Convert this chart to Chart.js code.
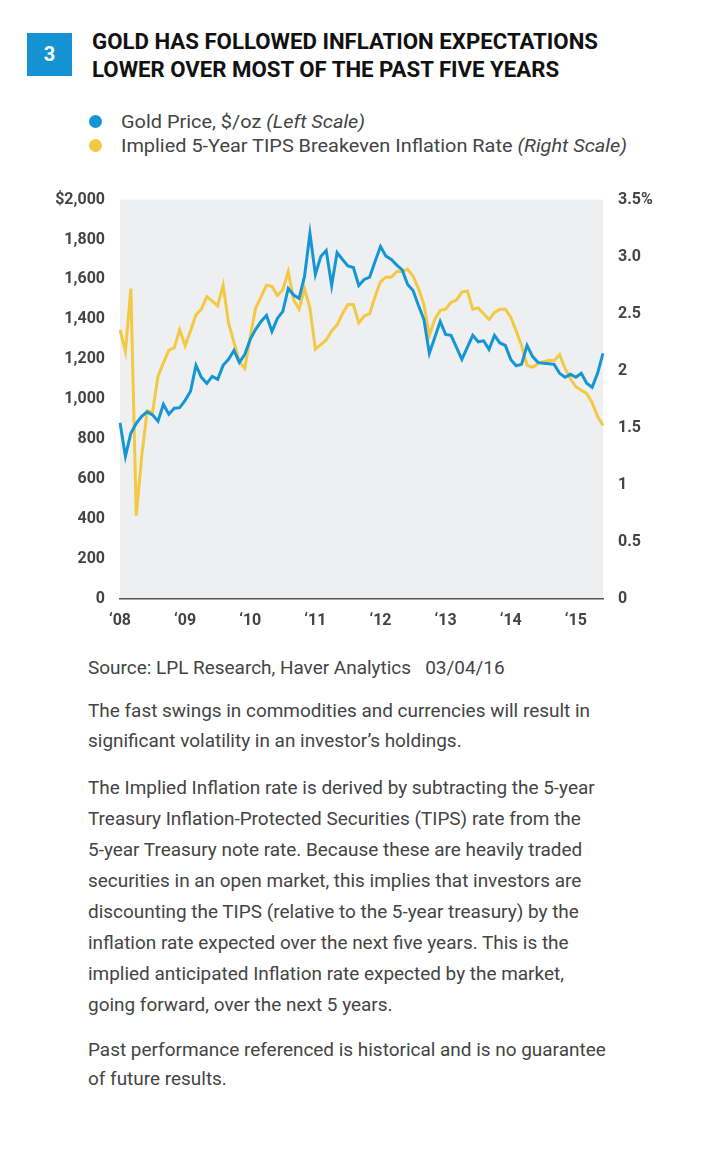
<!DOCTYPE html>
<html>
<head>
<meta charset="utf-8">
<script src="https://cdn.jsdelivr.net/npm/chart.js@4"></script>
<style>
  html, body { margin: 0; padding: 0; background: #fff; }
  body { width: 728px; height: 1157px; position: relative; overflow: hidden;
         font-family: "Roboto", "Liberation Sans", sans-serif; }
  .ln { position: absolute; white-space: nowrap; display: inline-block; transform-origin: left center; }
  .title { font-weight: bold; font-size: 22px; color: #111; line-height: 26px; height: 26px; }
  .leg { font-size: 18px; color: #444; line-height: 22px; height: 22px; }
  .txt { font-size: 19px; color: #444; line-height: 24px; height: 24px; }
  .dot { position: absolute; width: 13px; height: 13px; border-radius: 50%; }
  #box { position: absolute; left: 27px; top: 33px; width: 45px; height: 43px; background: #1592d2;
         color: #fff; font-weight: bold; font-size: 20px; text-align: center; line-height: 43px; }
  #wrap { position: absolute; left: 40px; top: 175px; width: 640px; height: 465px; }
</style>
</head>
<body>
<div id="box">3</div>
<span class="ln title" data-g="title" data-ref="506" style="left:92px; top:29px;">GOLD HAS FOLLOWED INFLATION EXPECTATIONS</span>
<span class="ln title" data-g="title" style="left:92px; top:57px;">LOWER OVER MOST OF THE PAST FIVE YEARS</span>

<div class="dot" style="left:89px; top:115px; background:#1596d4;"></div>
<span class="ln leg" data-g="leg" style="left:121px; top:111px;">Gold Price, $/oz <i>(Left Scale)</i></span>
<div class="dot" style="left:89px; top:139px; background:#f3c842;"></div>
<span class="ln leg" data-g="leg" data-ref="506" style="left:121px; top:135px;">Implied 5-Year TIPS Breakeven Inflation Rate <i>(Right Scale)</i></span>

<div id="wrap"><canvas id="c" width="640" height="465"></canvas></div>

<span class="ln txt" data-g="txt" style="left:88px; top:656px;">Source: LPL Research, Haver Analytics&nbsp;&nbsp;&nbsp;03/04/16</span>
<span class="ln txt" data-g="txt" data-ref="502" style="left:88px; top:699px;">The fast swings in commodities and currencies will result in</span>
<span class="ln txt" data-g="txt" style="left:88px; top:729px;">significant volatility in an investor’s holdings.</span>
<span class="ln txt" data-g="txt" style="left:88px; top:776px;">The Implied Inflation rate is derived by subtracting the 5-year</span>
<span class="ln txt" data-g="txt" style="left:88px; top:807px;">Treasury Inflation-Protected Securities (TIPS) rate from the</span>
<span class="ln txt" data-g="txt" style="left:88px; top:838px;">5-year Treasury note rate. Because these are heavily traded</span>
<span class="ln txt" data-g="txt" style="left:88px; top:869px;">securities in an open market, this implies that investors are</span>
<span class="ln txt" data-g="txt" style="left:88px; top:900px;">discounting the TIPS (relative to the 5-year treasury) by the</span>
<span class="ln txt" data-g="txt" style="left:88px; top:931px;">inflation rate expected over the next five years. This is the</span>
<span class="ln txt" data-g="txt" style="left:88px; top:962px;">implied anticipated Inflation rate expected by the market,</span>
<span class="ln txt" data-g="txt" style="left:88px; top:993px;">going forward, over the next 5 years.</span>
<span class="ln txt" data-g="txt" style="left:88px; top:1038px;">Past performance referenced is historical and is no guarantee</span>
<span class="ln txt" data-g="txt" style="left:88px; top:1067px;">of future results.</span>

<script>
// ---- data (monthly points) ----
const goldPrice = [883,715,830,880,915,937,922,890,975,925,
  955,958,995,1040,1170,1110,1080,1115,1100,1170,
  1200,1245,1185,1225,1300,1350,1390,1420,1340,1405,
  1440,1555,1522,1505,1615,1830,1625,1715,1745,1570,
  1735,1700,1668,1660,1570,1600,1612,1690,1765,1717,
  1700,1672,1648,1575,1545,1470,1400,1230,1310,1390,
  1325,1320,1260,1200,1260,1320,1288,1293,1250,1320,
  1282,1270,1200,1168,1175,1270,1215,1185,1180,1178,
  1175,1130,1110,1125,1110,1130,1080,1060,1130,1230];
const tipsBreakeven = [2.36,2.17,2.72,0.73,1.25,1.65,1.64,1.95,2.07,2.18,
  2.20,2.36,2.22,2.35,2.49,2.54,2.65,2.61,2.57,2.75,
  2.42,2.25,2.08,2.02,2.30,2.55,2.65,2.75,2.74,2.66,
  2.71,2.87,2.62,2.54,2.72,2.55,2.19,2.23,2.27,2.35,
  2.40,2.50,2.58,2.58,2.42,2.48,2.50,2.65,2.78,2.82,
  2.82,2.87,2.87,2.89,2.83,2.72,2.58,2.31,2.45,2.53,
  2.54,2.60,2.62,2.69,2.70,2.54,2.55,2.50,2.45,2.51,
  2.54,2.54,2.47,2.35,2.22,2.05,2.03,2.06,2.08,2.09,
  2.09,2.14,2.02,1.93,1.86,1.83,1.80,1.72,1.60,1.52];
const xTickLabels = ["‘08","‘09","‘10","‘11","‘12","‘13","‘14","‘15"];
const leftTickLabels = ["0","200","400","600","800","1,000","1,200","1,400","1,600","1,800","$2,000"];
const rightTickLabels = ["0","0.5","1","1.5","2","2.5","3.0","3.5%"];
const months = goldPrice.map((_, i) => i);

// condense each text group with one common horizontal scale (reference font is condensed)
['title', 'leg', 'txt'].forEach(g => {
  const els = Array.from(document.querySelectorAll('.ln[data-g="' + g + '"]'));
  const ref = els.find(e => e.dataset.ref);
  const k = parseFloat(ref.dataset.ref) / ref.getBoundingClientRect().width;
  els.forEach(e => { e.style.transform = 'scaleX(' + k + ')'; });
});

const tickFont = { family: 'Roboto, "Liberation Sans", sans-serif', size: 16, weight: 'bold' };
const plotBg = {
  id: 'plotBg',
  beforeDraw(chart) {
    const { ctx, chartArea: a } = chart;
    ctx.save();
    ctx.fillStyle = '#eeeff1';
    ctx.fillRect(a.left, a.top, a.right - a.left, a.bottom - a.top);
    ctx.restore();
  }
};

new Chart(document.getElementById('c'), {
  type: 'line',
  data: {
    labels: months,
    datasets: [
      { label: 'Gold Price, $/oz (Left Scale)', data: goldPrice, yAxisID: 'yL',
        borderColor: '#1596d4', borderWidth: 3, pointRadius: 0, tension: 0, fill: false },
      { label: 'Implied 5-Year TIPS Breakeven Inflation Rate (Right Scale)', data: tipsBreakeven, yAxisID: 'yR',
        borderColor: '#f3c842', borderWidth: 3, pointRadius: 0, tension: 0, fill: false }
    ]
  },
  options: {
    responsive: false,
    animation: false,
    layout: { padding: { top: 14, left: 0, right: 0, bottom: 0 } },
    plugins: { legend: { display: false }, tooltip: { enabled: false }, title: { display: false } },
    scales: {
      x: {
        type: 'category',
        offset: false,
        grid: { display: false, drawTicks: false },
        border: { display: true, color: '#555', width: 1.5 },
        ticks: {
          autoSkip: false, maxRotation: 0, minRotation: 0, padding: 12,
          color: '#444', font: tickFont,
          callback: (v, i) => (i % 12 === 0 && xTickLabels[i / 12] !== undefined) ? xTickLabels[i / 12] : null
        },
        afterFit(s) { s.height = 41; }
      },
      yL: {
        position: 'left', min: 0, max: 2000,
        grid: { display: false, drawTicks: false },
        border: { display: false },
        ticks: { stepSize: 200, padding: 15, color: '#444', font: tickFont,
          callback: (v) => leftTickLabels[Math.round(v / 200)] },
        afterFit(s) { s.width = 80; }
      },
      yR: {
        position: 'right', min: 0, max: 3.5,
        grid: { display: false, drawTicks: false },
        border: { display: false },
        ticks: { stepSize: 0.5, padding: 15, color: '#444', font: tickFont,
          callback: (v) => rightTickLabels[Math.round(v / 0.5)] },
        afterFit(s) { s.width = 77; }
      }
    }
  },
  plugins: [plotBg]
});
</script>
</body>
</html>
